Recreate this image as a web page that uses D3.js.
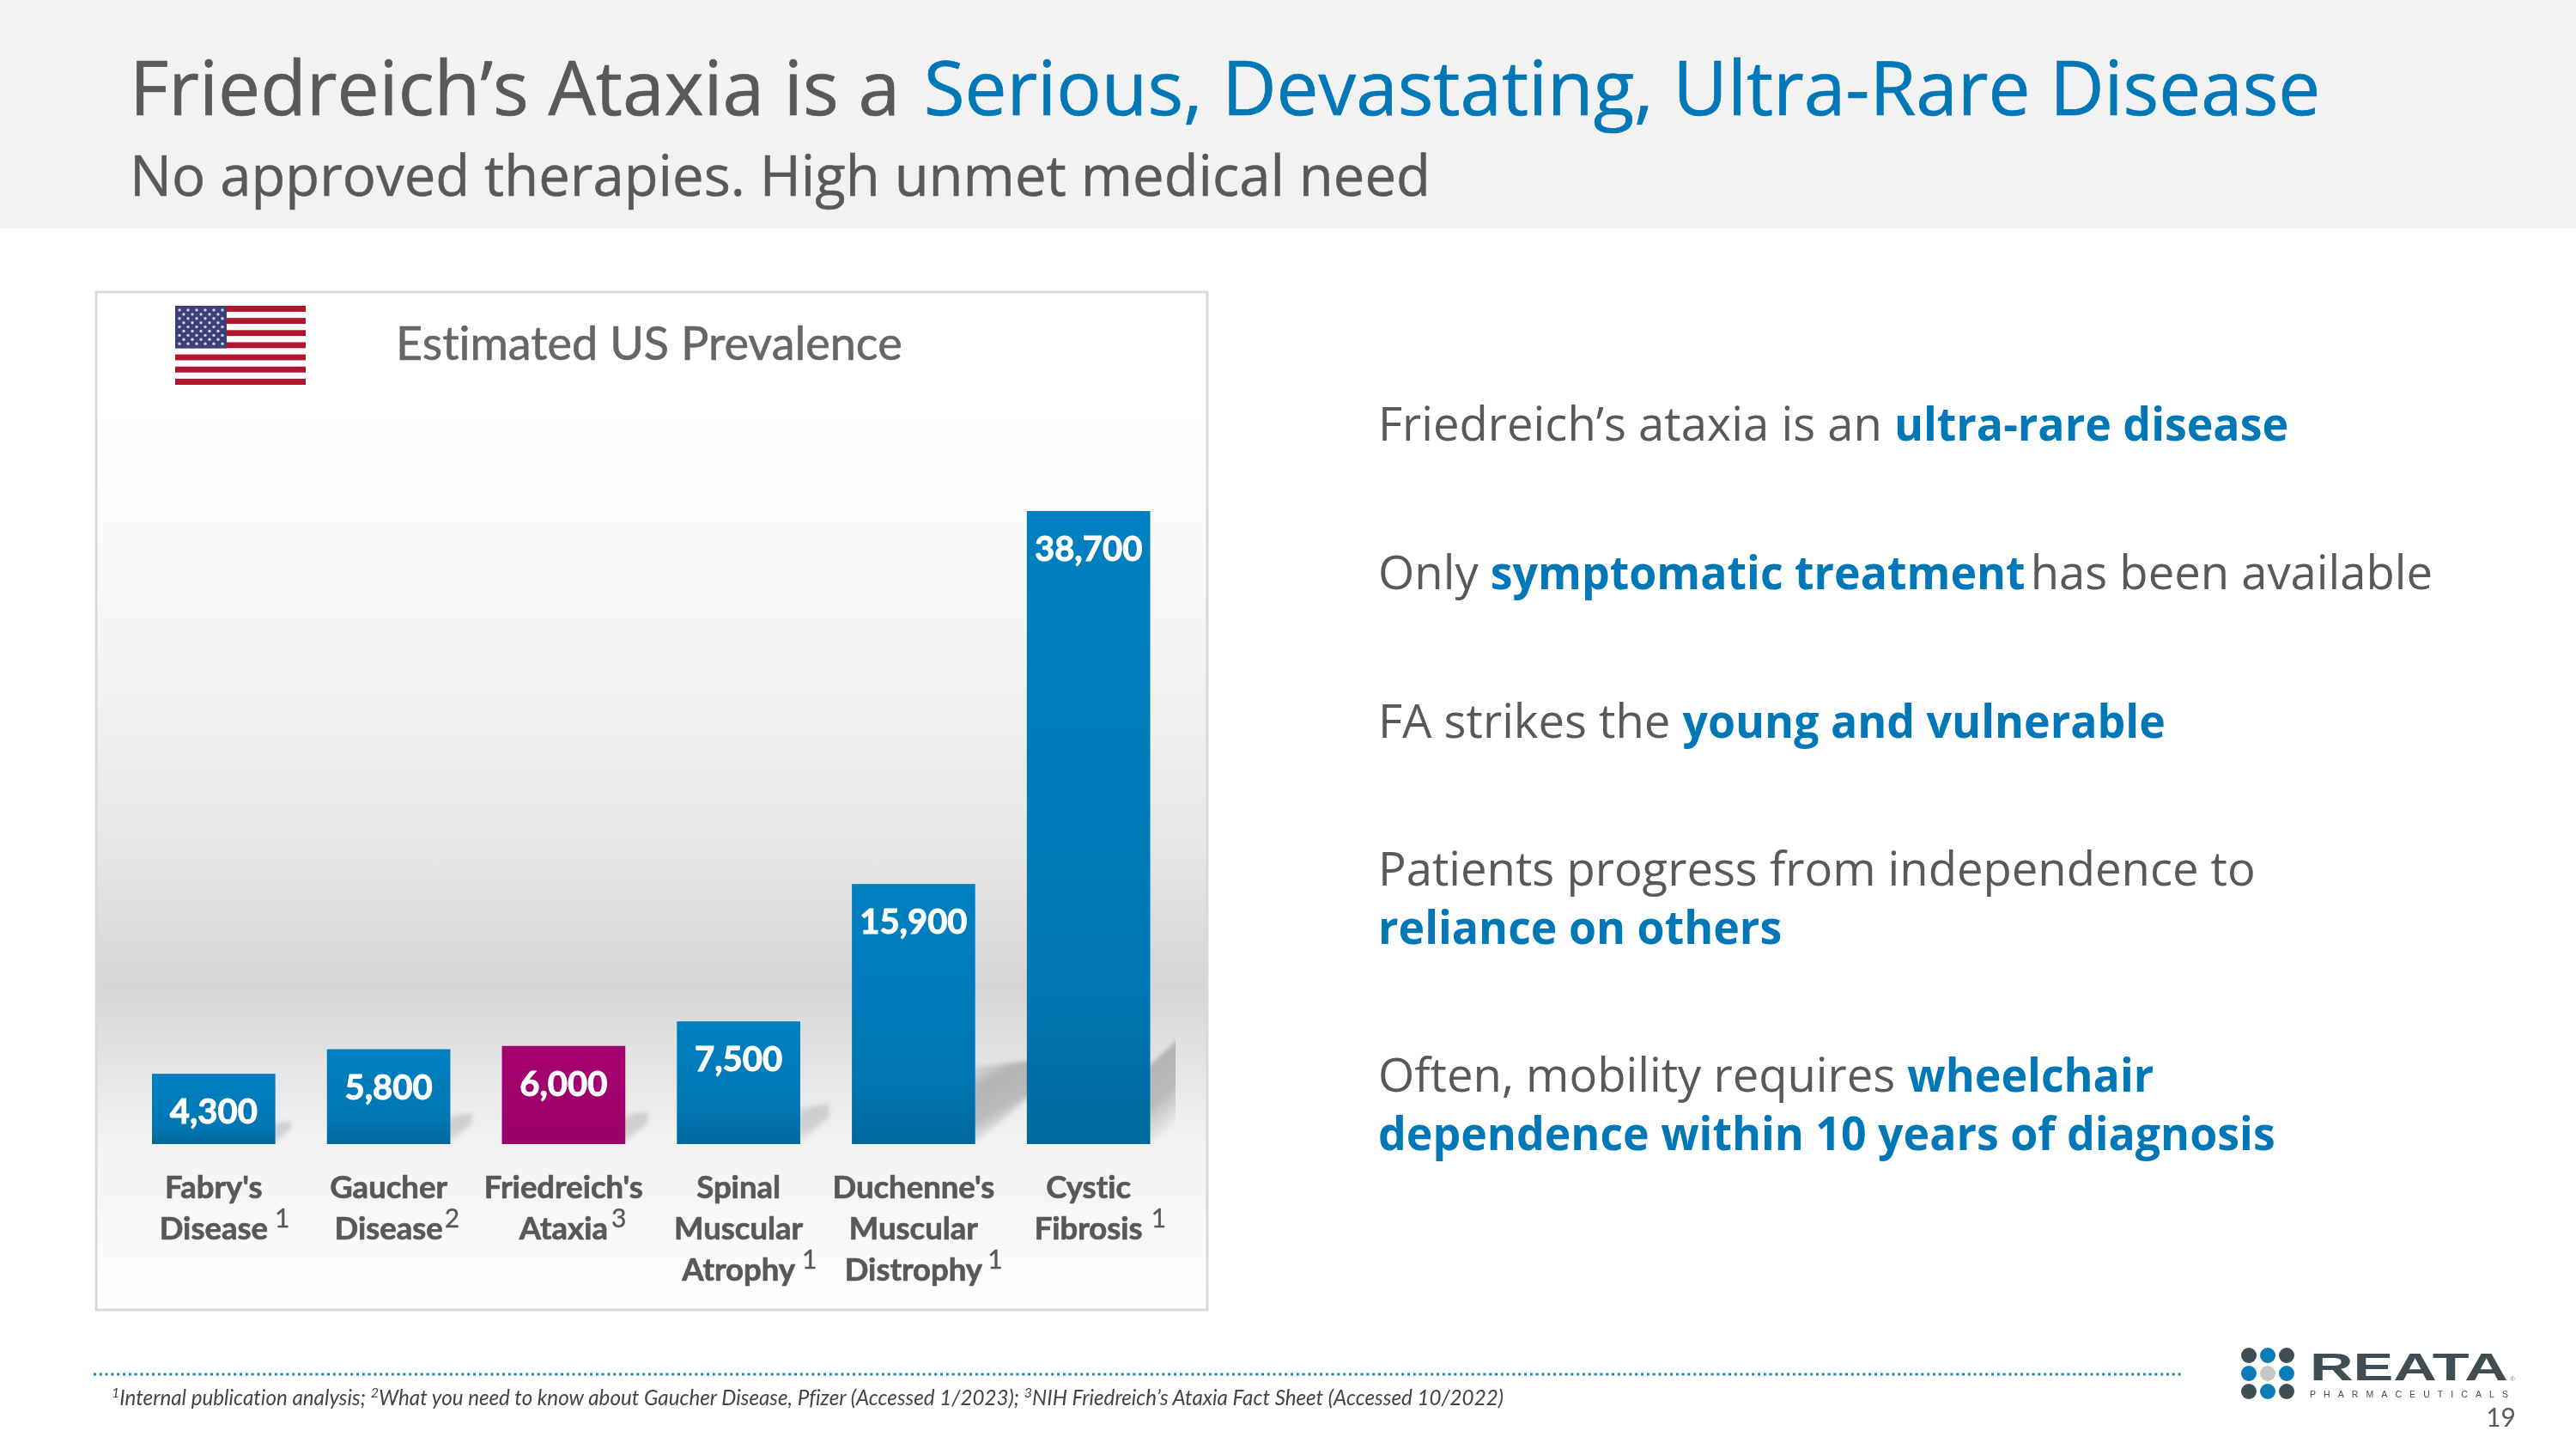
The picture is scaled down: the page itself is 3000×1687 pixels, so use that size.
<!DOCTYPE html>
<html><head><meta charset="utf-8">
<style>html,body{margin:0;padding:0;background:#fff}svg{display:block}text{font-variant-ligatures:none}</style>
<script src="https://cdnjs.cloudflare.com/ajax/libs/d3/7.8.5/d3.min.js"></script>
</head><body><svg id="c" width="3000" height="1687"></svg>
<script>
const categories=[["Fabry's","Disease"],["Gaucher","Disease"],["Friedreich's","Ataxia"],["Spinal","Muscular","Atrophy"],["Duchenne's","Muscular","Distrophy"],["Cystic","Fibrosis"]];
const superscripts=["1","2","3","1","1","1"];
const prevalence=[4300,5800,6000,7500,15900,38700];
const highlighted="Friedreich's";
const titleParts=[["Friedreich’s Ataxia is a ",0],["Serious, Devastating, Ultra-Rare Disease",1]];
const subtitle="No approved therapies. High unmet medical need";
const chartTitle="Estimated US Prevalence";
const bullets=[
 [[["Friedreich’s ataxia is an ",0],["ultra-rare disease",1]]],
 [[["Only ",0],["symptomatic treatment",1],[" has been available",0]]],
 [[["FA strikes the ",0],["young and vulnerable",1]]],
 [[["Patients progress from independence to",0]],[["reliance on others",1]]],
 [[["Often, mobility requires ",0],["wheelchair",1]],[["dependence within 10 years of diagnosis",1]]]
];
const footnote=[["1",1],["Internal publication analysis; ",0],["2",1],["What you need to know about Gaucher Disease, Pfizer (Accessed 1/2023); ",0],["3",1],["NIH Friedreich’s Ataxia Fact Sheet (Accessed 10/2022)",0]];
const pageNumber="19";

const BLUE="#0077b6",GREY="#595959",SANS="'Open Sans',sans-serif",CAL="Lato,sans-serif";
const svg=d3.select("#c"),defs=svg.append("defs");
function grad(id,stops,x2=0,y2=1){const g=defs.append("linearGradient").attr("id",id).attr("x1",0).attr("y1",0).attr("x2",x2).attr("y2",y2);
 stops.forEach(s=>g.append("stop").attr("offset",s[0]).attr("stop-color",s[1]).attr("stop-opacity",s[2]??1));}
grad("panelG",[[0,"#ffffff"],[.12,"#ffffff"],[.35,"#f4f4f4"],[.55,"#e6e6e6"],[.68,"#d6d6d6"],[.77,"#e6e6e6"],[.84,"#f3f3f3"],[.9,"#f6f6f6"],[1,"#ffffff"]]);
grad("barB",[[0,"#0080c1"],[.75,"#0076b3"],[1,"#00689c"]]);
grad("barM",[[0,"#a5006f"],[1,"#9b006b"]]);
grad("shadow",[[0,"#b0b0b0",0],[.3,"#b0b0b0",.95],[.62,"#b4b4b4",.9],[.85,"#c8c8c8",.15],[1,"#cccccc",0]],.45,1);
defs.append("filter").attr("id","blur").attr("x","-30%").attr("y","-30%").attr("width","160%").attr("height","160%").append("feGaussianBlur").attr("stdDeviation",2.5);
defs.append("filter").attr("id","soft").attr("x","-5%").attr("y","-20%").attr("width","110%").attr("height","140%").append("feGaussianBlur").attr("stdDeviation",.7);
defs.append("clipPath").attr("id","panelClip").append("rect").attr("x",113).attr("y",341).attr("width",1256).attr("height",1182);

function rich(sel,parts,color){parts.forEach((p,i)=>{
  const s=sel.append("tspan").text(p[0]).attr("fill",p[1]?BLUE:color).attr("font-weight",p[1]?700:400);
  if(!p[1]&&i>0)s.attr("dx",-8);
  if(p[1]){s.attr("font-size",54);const w=s.node().getComputedTextLength();s.attr("textLength",w*.96).attr("lengthAdjust","spacingAndGlyphs");}
});}

// header
svg.append("rect").attr("width",3000).attr("height",266).attr("fill","#f2f2f2");
const t=svg.append("text").attr("x",151).attr("y",134).attr("font-family",SANS).attr("font-size",87.5);
titleParts.forEach(p=>{const s=t.append("tspan").text(p[0]).attr("fill",p[1]?BLUE:GREY).attr("stroke",p[1]?BLUE:GREY).attr("stroke-width",.7);if(p[1])s.attr("dx",5).attr("font-size",87.3);});
svg.append("text").attr("x",151).attr("y",228).attr("font-family",SANS).attr("font-size",65.2).attr("fill",GREY).attr("stroke",GREY).attr("stroke-width",.5).text(subtitle);

// panel
svg.append("rect").attr("x",112).attr("y",340).attr("width",1294).attr("height",1185).attr("fill","url(#panelG)").attr("stroke","#d9d9d9").attr("stroke-width",3);

const x=d3.scaleBand().domain(d3.range(categories.length)).range([177,1339.5]).paddingInner(.295).paddingOuter(0);
const y=d3.scaleLinear().domain([0,38700]).range([1332,595]);

// shadows
const sh=svg.append("g").attr("clip-path","url(#panelClip)").append("g").attr("filter","url(#blur)");
sh.selectAll("path").data(prevalence).join("path").attr("fill","url(#shadow)").attr("opacity",(v)=>y(0)-y(v)<200?.55:1).attr("d",(v,i)=>{
  const r=x(i)+x.bandwidth()-3,b=y(0),h=Math.min(.3*(b-y(v)),90),o=h*.85,rise=v>20000?.9:.1;
  return d3.line()([[r,b-h],[r+o,b-h-rise*o],[r+o,b-.85*o],[r,b+2]]);
});
// bars
svg.append("g").selectAll("rect").data(prevalence).join("rect")
 .attr("x",(v,i)=>x(i)).attr("width",x.bandwidth()).attr("y",v=>y(v)).attr("height",v=>y(0)-y(v))
 .attr("fill",(v,i)=>categories[i][0]===highlighted?"url(#barM)":"url(#barB)");
// value labels
svg.append("g").selectAll("text").data(prevalence).join("text")
 .attr("x",(v,i)=>x(i)+x.bandwidth()/2).attr("y",v=>y(v)+58).attr("text-anchor","middle")
 .attr("font-family",CAL).attr("font-weight",700).attr("font-size",40).attr("fill","#fff").attr("stroke","#fff").attr("stroke-width",1).attr("filter","url(#soft)")
 .text(d3.format(","));
// category labels
const lab=svg.append("g").attr("font-family",CAL).attr("fill",GREY);
const supGap=[8,2,4,8,6,10];
categories.forEach((lines,i)=>{
  lines.forEach((l,j)=>{
    const e=lab.append("text").attr("x",x(i)+x.bandwidth()/2).attr("y",1395+j*48).attr("text-anchor","middle")
      .attr("font-weight",700).attr("font-size",36.5).attr("stroke",GREY).attr("stroke-width",.7).attr("filter","url(#soft)").text(l);
    if(j===lines.length-1){
      const w=e.node().getComputedTextLength();
      lab.append("text").attr("x",x(i)+x.bandwidth()/2+w/2+supGap[i]).attr("y",1395+j*48-14)
       .attr("font-size",30).attr("filter","url(#soft)").attr("stroke",GREY).attr("stroke-width",.4).text(superscripts[i]);
    }
  });
});
// chart title
svg.append("text").attr("x",461).attr("y",419).attr("font-family",CAL).attr("font-size",54).attr("fill","#666").attr("stroke","#666").attr("stroke-width",.6).attr("filter","url(#soft)").text(chartTitle);

// flag
const fx=d3.scaleLinear().domain([0,1]).range([204,356]),fy=d3.scaleBand().domain(d3.range(13)).range([356,448]);
const flag=svg.append("g").attr("filter","url(#soft)");
flag.selectAll("rect.s").data(d3.range(13)).join("rect").attr("class","s").attr("x",fx(0)).attr("width",fx(1)-fx(0)).attr("y",d=>fy(d)).attr("height",fy.bandwidth()).attr("fill",d=>d%2?"#fff":"#b2182f");
flag.append("rect").attr("x",fx(0)).attr("y",356).attr("width",fx(.395)-fx(0)).attr("height",fy(7)-356).attr("fill","#3b3f78");
d3.range(9).forEach(r=>{const n=r%2?5:6;d3.range(n).forEach(c=>{
  flag.append("circle").attr("cx",fx(0)+5+(c+(r%2?.5:0))*10).attr("cy",361+r*4.9).attr("r",1.7).attr("fill","#cfd2e6");
});});

// bullets
const lineYs=[[513],[686],[859],[1031,1099],[1271,1339]];
bullets.forEach((b,i)=>b.forEach((ln,j)=>{
  const e=svg.append("text").attr("x",1605).attr("y",lineYs[i][j]).attr("font-family",SANS).attr("font-size",54.4).attr("xml:space","preserve");
  rich(e,ln,GREY);
}));

// footer
svg.append("line").attr("x1",109).attr("x2",2542).attr("y1",1600).attr("y2",1600).attr("stroke","#1a87b8").attr("stroke-width",3).attr("stroke-dasharray","3 3.8");
const fn=svg.append("text").attr("x",130).attr("y",1636).attr("font-family",CAL).attr("font-style","italic").attr("font-size",24.2).attr("fill","#444").attr("xml:space","preserve");
footnote.forEach(p=>{const s=fn.append("tspan").text(p[0]);if(p[1])s.attr("font-size",16).attr("dy",-9);else s.attr("dy",9);});
// logo
const lg=svg.append("g");
[2619,2641,2663].forEach((cx,a)=>[1578,1599,1620].forEach((cy,b)=>{
  const centre=a===1&&b===1,blue=(a+b)%2===1;
  lg.append("circle").attr("cx",cx).attr("cy",cy).attr("r",9).attr("fill",centre?"#c6c6c6":blue?"#0a7db8":"#3f4e54");
}));
lg.append("text").attr("x",2690).attr("y",1607).attr("font-family","'Liberation Sans',sans-serif").attr("font-size",45).attr("fill","#3f4e54").attr("font-weight",700).attr("textLength",231).attr("lengthAdjust","spacingAndGlyphs").text("REATA");
lg.append("text").attr("x",2690).attr("y",1627).attr("font-family","'Liberation Sans',sans-serif").attr("font-size",10.5).attr("fill","#3f4e54").attr("textLength",231).attr("lengthAdjust","spacing").text("PHARMACEUTICALS");
lg.append("text").attr("x",2923).attr("y",1608).attr("font-family","'Liberation Sans',sans-serif").attr("font-size",8).attr("fill","#888").text("®");
svg.append("text").attr("x",2930).attr("y",1661).attr("text-anchor","end").attr("font-family",CAL).attr("font-size",30).attr("fill",GREY).text(pageNumber);
</script></body></html>
